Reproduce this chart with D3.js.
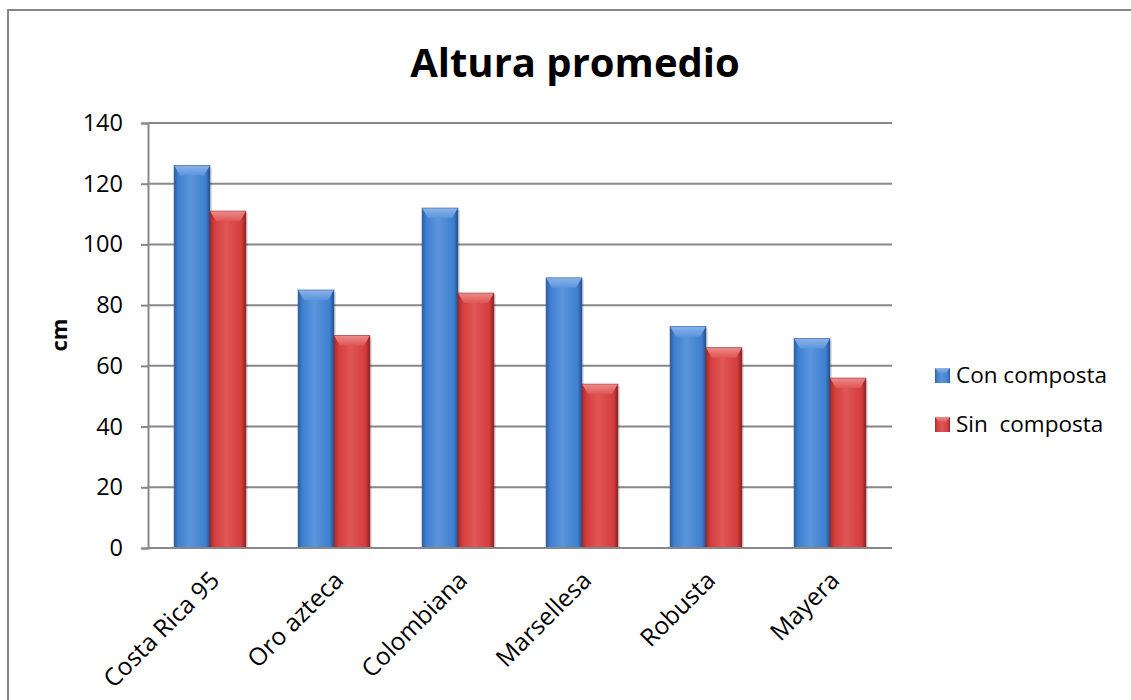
<!DOCTYPE html>
<html><head><meta charset="utf-8">
<script src="https://cdn.jsdelivr.net/npm/d3@7"></script>
<style>
html,body{margin:0;padding:0;background:#fff;}
svg{display:block;font-family:"Open Sans","Lato",sans-serif;}
</style></head>
<body>
<svg id="chart" width="1131" height="700"></svg>
<script>
const categories = ["Costa Rica 95","Oro azteca","Colombiana","Marsellesa","Robusta","Mayera"];
const seriesNames = ["Con composta","Sin  composta"];
const conComposta = [126,85,112,89,73,69];
const sinComposta = [111,70,84,54,66,56];
const yTicks = [0,20,40,60,80,100,120,140];
const title = "Altura promedio";
const yLabel = "cm";

const svg = d3.select("#chart");
const defs = svg.append("defs");
const m = {left:148, right:892, top:123, bottom:548};

const palettes = [
  {id:"blue", edge:"#2c5d9e", mid:"#3f7fd0", light:"#5b95dc", top:"#8fb6ea", dark:"#234e88"},
  {id:"red", edge:"#9e2a2a", mid:"#d43c3c", light:"#e05656", top:"#ee8f8f", dark:"#842222"}
];
palettes.forEach(p=>{
  const g = defs.append("linearGradient").attr("id","g-"+p.id).attr("x1","0").attr("x2","1").attr("y1","0").attr("y2","0");
  g.append("stop").attr("offset","0").attr("stop-color",p.edge);
  g.append("stop").attr("offset","0.12").attr("stop-color",p.mid);
  g.append("stop").attr("offset","0.45").attr("stop-color",p.light);
  g.append("stop").attr("offset","0.88").attr("stop-color",p.mid);
  g.append("stop").attr("offset","1").attr("stop-color",p.dark);
  const t = defs.append("linearGradient").attr("id","t-"+p.id).attr("x1","0").attr("x2","0").attr("y1","0").attr("y2","1");
  t.append("stop").attr("offset","0").attr("stop-color",p.top);
  t.append("stop").attr("offset","1").attr("stop-color",p.light);
});

// outer border
svg.append("rect").attr("x",8).attr("y",10).attr("width",1140).attr("height",720)
  .attr("fill","#fff").attr("stroke","#868686").attr("stroke-width",2);

const x0 = d3.scaleBand().domain(categories).range([m.left,m.right]).paddingInner(0.42).paddingOuter(0.21);
const x1 = d3.scaleBand().domain(seriesNames).range([0,x0.bandwidth()]);
const y = d3.scaleLinear().domain([0,140]).range([m.bottom,m.top]);

// gridlines
svg.append("g").selectAll("line").data(yTicks.filter(d=>d>0)).join("line")
  .attr("x1",m.left).attr("x2",m.right).attr("y1",d=>y(d)).attr("y2",d=>y(d))
  .attr("stroke","#888").attr("stroke-width",2);

// y axis
const yAxis = svg.append("g").attr("transform",`translate(${m.left},0)`)
  .call(d3.axisLeft(y).tickValues(yTicks).tickSize(7).tickPadding(18).tickFormat(d3.format("d")));
yAxis.select(".domain").attr("stroke","#888").attr("stroke-width",2);
yAxis.selectAll(".tick line").attr("stroke","#888").attr("stroke-width",2);
yAxis.selectAll("text").attr("font-size",23.5).attr("fill","#000").attr("font-family","Open Sans");

// bars
const series = [conComposta, sinComposta];
const groups = svg.append("g");
series.forEach((vals,si)=>{
  const p = palettes[si];
  const data = categories.map((c,i)=>({c, v:vals[i]}));
  const g = groups.append("g");
  data.forEach(d=>{
    const bx = x0(d.c)+x1(seriesNames[si]);
    const bw = x1.bandwidth();
    const by = y(d.v), bh = y(0)-y(d.v);
    g.append("rect").attr("x",bx+2).attr("y",by+2).attr("width",bw).attr("height",bh-2)
      .attr("fill","#000").attr("opacity",0.12);
    g.append("rect").attr("x",bx).attr("y",by).attr("width",bw).attr("height",bh)
      .attr("fill",`url(#g-${p.id})`);
    const bev = 10, side = 6;
    g.append("polygon").attr("points",[[bx,by],[bx+bw,by],[bx+bw-side,by+bev],[bx+side,by+bev]].map(q=>q.join(",")).join(" "))
      .attr("fill",`url(#t-${p.id})`).attr("opacity",0.95);
    g.append("rect").attr("x",bx).attr("y",by).attr("width",bw).attr("height",bh)
      .attr("fill","none").attr("stroke",p.edge).attr("stroke-width",0.8).attr("opacity",0.7);
  });
});

// x axis line
svg.append("line").attr("x1",m.left).attr("x2",m.right).attr("y1",m.bottom).attr("y2",m.bottom)
  .attr("stroke","#888").attr("stroke-width",2);

// category labels
svg.append("g").selectAll("text").data(categories).join("text")
  .attr("transform",d=>`translate(${x0(d)+x0.bandwidth()/2-3},${m.bottom+20}) rotate(-45)`)
  .attr("text-anchor","end").attr("dy","0.8em")
  .attr("font-size",24.5).attr("font-family","Open Sans").text(d=>d);

// title
svg.append("text").attr("x",575).attr("y",77).attr("text-anchor","middle")
  .attr("font-size",40).attr("font-weight","bold").attr("font-family","Open Sans").text(title);

// y label
svg.append("text").attr("transform","translate(67,335) rotate(-90)").attr("text-anchor","middle")
  .attr("font-size",22).attr("font-weight","bold").attr("font-family","Open Sans").text(yLabel);

// legend
const leg = svg.append("g");
seriesNames.forEach((s,i)=>{
  const p = palettes[i];
  const ly = 375 + i*49;
  leg.append("rect").attr("x",935).attr("y",ly-7).attr("width",15).attr("height",15).attr("fill",`url(#g-${p.id})`);
  leg.append("polygon").attr("points",`935,${ly-7} 950,${ly-7} 946,${ly-2} 939,${ly-2}`).attr("fill",`url(#t-${p.id})`);
  leg.append("text").attr("x",956).attr("y",ly).attr("dy","0.36em").attr("font-size",22.5)
    .attr("font-family","Open Sans").style("white-space","pre").attr("xml:space","preserve").text(s);
});
</script>
</body></html>
